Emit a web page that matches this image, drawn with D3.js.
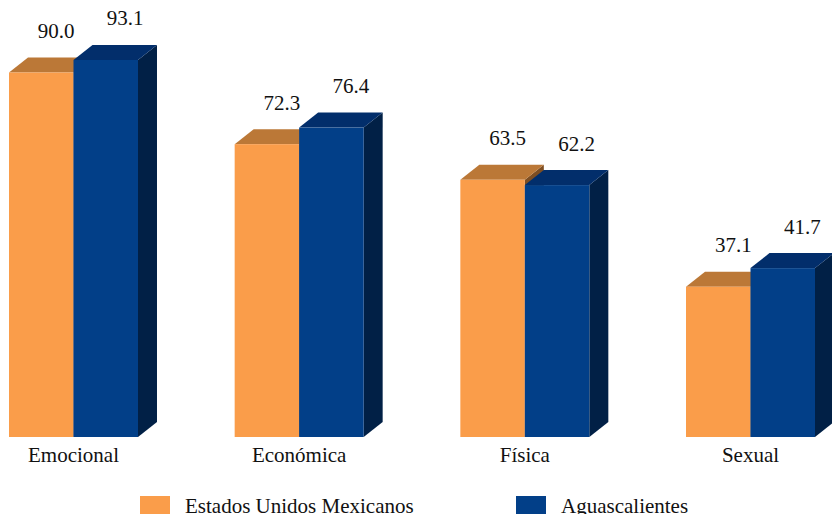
<!DOCTYPE html>
<html><head><meta charset="utf-8">
<script src="https://cdn.jsdelivr.net/npm/d3@7"></script>
<style>body{margin:0;background:#fff;overflow:hidden}svg{display:block}</style>
</head><body><svg id="c" width="832" height="514"></svg>
<script>
const categories = ["Emocional","Económica","Física","Sexual"];
const seriesNames = ["Estados Unidos Mexicanos","Aguascalientes"];
const mexico = [90.0, 72.3, 63.5, 37.1];
const aguascalientes = [93.1, 76.4, 62.2, 41.7];
const seriesValues = [mexico, aguascalientes];

const FONT = "Liberation Serif";
const colors = [
  {front:"#FA9D4A", top:"#BB7837", side:"#7E4E22"},
  {front:"#023F88", top:"#022E6B", side:"#012046"}
];
const labelShift = [15, 19.5];
const dx = 19, dy = 15;
const svg = d3.select("#c");
const y = d3.scaleLinear().domain([0,100]).range([437, 32]);
const x = d3.scaleBand().domain(categories).range([9,815]).paddingInner(0.4284).paddingOuter(0);
const xi = d3.scaleBand().domain(seriesNames).range([0, x.bandwidth()]);

function label(sel, size){ return sel.style("font-family", FONT).style("font-size", size+"px").attr("fill","#111"); }

categories.forEach((c,ci)=>{
  const g = svg.append("g");
  seriesNames.forEach((s,si)=>{
    const v = seriesValues[si][ci];
    const x0 = x(c)+xi(s), x1 = x0+xi.bandwidth();
    const yt = y(v), yb = y(0);
    const col = colors[si];
    g.append("polygon").attr("points",[[x1,yt],[x1+dx,yt-dy],[x1+dx,yb-dy],[x1,yb]].join(" ")).attr("fill",col.side);
    g.append("polygon").attr("points",[[x0,yt],[x0+dx,yt-dy],[x1+dx,yt-dy],[x1,yt]].join(" ")).attr("fill",col.top);
    g.append("rect").attr("x",x0).attr("y",yt).attr("width",x1-x0).attr("height",yb-yt).attr("fill",col.front);
    label(svg.append("text").attr("x",(x0+x1)/2+labelShift[si]).attr("y",yt-dy-19.5).attr("text-anchor","middle"), 21).text(v.toFixed(1));
  });
  label(svg.append("text").attr("x",x(c)+x.bandwidth()/2).attr("y",461.5).attr("text-anchor","middle"), 21).text(c);
});

const legX = [140, 516];
seriesNames.forEach((s,si)=>{
  svg.append("rect").attr("x",legX[si]).attr("y",496).attr("width",30).attr("height",30).attr("fill",colors[si].front);
  label(svg.append("text").attr("x",legX[si]+45).attr("y",512.5), 21).text(s);
});
</script></body></html>
